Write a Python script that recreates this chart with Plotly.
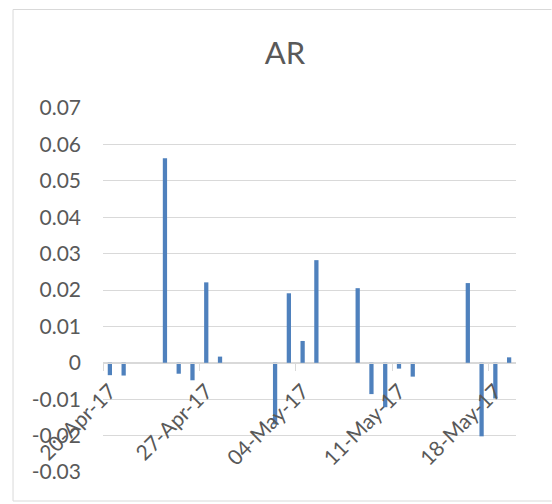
import plotly.graph_objects as go

dates = ["2017-04-20", "2017-04-21", "2017-04-24", "2017-04-25", "2017-04-26",
         "2017-04-27", "2017-04-28", "2017-05-02", "2017-05-03", "2017-05-04",
         "2017-05-05", "2017-05-08", "2017-05-09", "2017-05-10", "2017-05-11",
         "2017-05-12", "2017-05-16", "2017-05-17", "2017-05-18", "2017-05-19"]
ar = [-0.0034, -0.0035, 0.0562, -0.0030, -0.0048,
      0.0221, 0.0017, -0.0169, 0.0191, 0.0060,
      0.0282, 0.0205, -0.0086, -0.0122, -0.0016,
      -0.0038, 0.0219, -0.0202, -0.0098, 0.0015]

tick_positions = ["2017-04-19 12:00", "2017-04-26 12:00", "2017-05-03 12:00",
                  "2017-05-10 12:00", "2017-05-17 12:00"]
tick_labels = ["20-Apr-17", "27-Apr-17", "04-May-17", "11-May-17", "18-May-17"]
y_ticks = [-0.03, -0.02, -0.01, 0, 0.01, 0.02, 0.03, 0.04, 0.05, 0.06, 0.07]
y_labels = ["-0.03", "-0.02", "-0.01", "0", "0.01", "0.02", "0.03", "0.04", "0.05", "0.06", "0.07"]

DAY = 86400000
W, H = 552, 504
L, R, T, B = 103.3, 516.5, 108, 472

fig = go.Figure(go.Bar(x=dates, y=ar, width=[0.31 * DAY] * len(dates),
                       marker=dict(color="#4F81BD", line=dict(width=0))))

# chart-area border (left, top, bottom edges; right edge lies outside the picture)
bx0 = (13.3 - L) / (R - L)
bx1 = (W - L) / (R - L)
by0 = (B - 501) / (B - T)
by1 = (B - 9.5) / (B - T)
border = dict(type="line", xref="paper", yref="paper",
              line=dict(color="#d9d9d9", width=1), layer="below")

font_txt = dict(family="Lato", size=21, color="#595959")
fig.update_layout(
    width=W, height=H,
    margin=dict(l=L, r=W - R, t=T, b=H - B, pad=0),
    paper_bgcolor="white", plot_bgcolor="white",
    showlegend=False,
    title=dict(text="AR", x=285 / W, xref="container", xanchor="center",
               y=1 - 53 / H, yref="container", yanchor="middle",
               font=dict(family="Lato", size=31, color="#595959")),
    xaxis=dict(type="date", range=["2017-04-19 12:00", "2017-05-19 12:00"],
               tickmode="array", tickvals=tick_positions, ticktext=tick_labels,
               tickangle=-45, ticks="outside", ticklen=7, tickcolor="#d9d9d9",
               tickwidth=1, showline=True, linecolor="#d9d9d9", linewidth=1,
               showgrid=False, zeroline=False, anchor="free", position=0.3,
               ticklabelshift=7, tickfont=font_txt),
    yaxis=dict(range=[-0.03, 0.07], tickmode="array", tickvals=y_ticks, ticktext=y_labels,
               showgrid=True, gridcolor="#d9d9d9", gridwidth=1, zeroline=False,
               showline=False, ticks="", ticklabelstandoff=21, tickfont=font_txt),
    shapes=[dict(border, x0=bx0, x1=bx0, y0=by0, y1=by1),
            dict(border, x0=bx0, x1=bx1, y0=by1, y1=by1),
            dict(border, x0=bx0, x1=bx1, y0=by0, y1=by0)],
)

fig.write_html("out.html", config={"displayModeBar": False},
               post_script="document.body.style.margin='0';document.body.style.overflow='hidden';")
